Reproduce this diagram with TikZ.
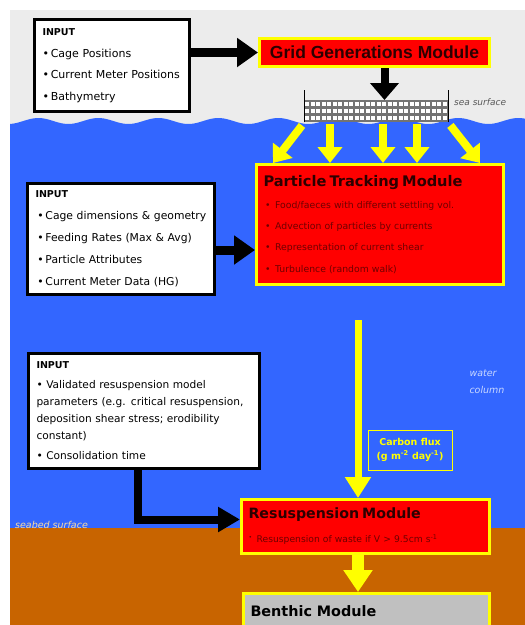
\documentclass[tikz,border=0pt]{standalone}
\usepackage{fontspec}
\setmainfont{DejaVu Sans}
\newfontfamily\arialf{Liberation Sans}
\usetikzlibrary{arrows.meta,calc}
\definecolor{bggray}{RGB}{236,236,236}
\definecolor{seablue}{RGB}{51,102,255}
\definecolor{seabed}{RGB}{200,100,0}
\definecolor{modred}{RGB}{255,0,0}
\definecolor{modyellow}{RGB}{255,255,0}
\definecolor{darkred}{RGB}{110,0,0}
\definecolor{titledark}{RGB}{45,0,0}
\definecolor{benthgray}{RGB}{192,192,192}
\definecolor{meshgray}{RGB}{115,115,115}
\definecolor{watertext}{RGB}{200,215,255}
\definecolor{seabedtext}{RGB}{250,220,160}
\tikzset{
  inbox/.style={draw=black, line width=3pt, fill=white, anchor=north west, inner xsep=8pt, inner ysep=0pt, align=left},
  module/.style={draw=modyellow, line width=3pt, fill=modred, anchor=north west, inner xsep=7pt, inner ysep=0pt, align=left},
  barrow/.style={draw=black, line width=9pt, -{Triangle[length=21pt,width=28pt]}},
  yarrow/.style={draw=modyellow, line width=8pt, -{Triangle[length=16pt,width=24pt]}},
  lbl/.style={inner sep=0pt, anchor=center},
}
\begin{document}
\begin{tikzpicture}[x=1pt,y=-1pt]
\useasboundingbox (0,0) rectangle (525,625);
% background
\fill[white] (0,0) rectangle (525,625);
\fill[bggray] (10,10) rectangle (525,130);
\fill[seablue] (10,528) -- plot[domain=10:525, samples=160, smooth] (\x, {121 + 3*sin(\x*6+40)}) -- (525,528) -- cycle;
\fill[seabed] (10,528) rectangle (525,625);

% input boxes
\node[inbox, minimum width=155pt, minimum height=92pt, text width=139pt,
      font=\fontsize{11}{21.5}\selectfont] (in1) at (33,18)
  {{\bfseries\fontsize{9.5}{21.5}\selectfont INPUT}\\
   •\,Cage Positions\\
   •\,Current Meter Positions\\
   •\,Bathymetry};

\node[inbox, minimum width=187pt, minimum height=111pt, text width=171pt,
      font=\fontsize{10.8}{22}\selectfont] (in2) at (26,182)
  {{\bfseries\fontsize{9.5}{22}\selectfont INPUT}\\
   \,•\,Cage dimensions \& geometry\\
   \,•\,Feeding Rates (Max \& Avg)\\
   \,•\,Particle Attributes\\
   \,•\,Current Meter Data (HG)};

\node[inbox, minimum width=231pt, minimum height=115pt, text width=215pt,
      font=\fontsize{10.6}{17}\selectfont] (in3) at (27,352)
  {{\bfseries\fontsize{9.5}{17}\selectfont INPUT}\\[3pt]
   • Validated resuspension model\\
   parameters (e.g. critical resuspension,\\
   deposition shear stress; erodibility\\
   constant)\\[3pt]
   • Consolidation time};

% modules
\node[module, minimum width=230pt, minimum height=28pt, align=center,
      font=\arialf\bfseries\fontsize{17.5}{20}\selectfont, text=titledark] (grid) at (258,37)
  {Grid Generations Module};

\node[module, minimum width=247pt, minimum height=120pt, text width=233pt,
      font=\fontsize{9.3}{21.3}\selectfont, text=darkred] (part) at (255,163)
  {{\bfseries\fontsize{14.6}{24}\selectfont\color{titledark}Particle Tracking Module}\\
   \,•\enspace Food/faeces with different settling vol.\\
   \,•\enspace Advection of particles by currents\\
   \,•\enspace Representation of current shear\\
   \,•\enspace Turbulence (random walk)};

\node[module, minimum width=248pt, minimum height=54pt, text width=234pt,
      font=\fontsize{9.2}{24}\selectfont, text=darkred] (resus) at (240,498)
  {{\bfseries\fontsize{14.2}{24}\selectfont\color{titledark}Resuspension Module}\\
   \raisebox{3pt}{\fontsize{6}{6}\selectfont•}\enspace Resuspension of waste if V > 9.5cm s\textsuperscript{-1}};

\node[module, fill=benthgray, minimum width=246pt, minimum height=36pt, text width=232pt,
      font=\bfseries\fontsize{14.4}{18}\selectfont, text=black] (benth) at (242,592)
  {Benthic Module};

% mesh
\node[fill=meshgray, minimum width=144pt, minimum height=22pt, inner sep=0pt, anchor=north west] (mesh) at (304,100) {};
\foreach \r in {0,1,2}
  \draw[white, line width=4pt, dash pattern=on 4pt off 1.5pt] (305,{103.5+\r*7}) -- (447,{103.5+\r*7});
\draw[black, line width=0.8pt] (mesh.south west) -- ++(0,-32);
\draw[black, line width=0.8pt] (mesh.south east) -- ++(0,-32);
\node[lbl, anchor=west, font=\itshape\fontsize{9}{10}\selectfont, text=black!65] (seasurf) at (454,102) {sea surface};

% labels
\node[lbl, align=left, font=\itshape\fontsize{9.5}{17}\selectfont, text=watertext] (wc) at (487,382) {water\\column};
\node[lbl, anchor=west, font=\itshape\fontsize{9.5}{11}\selectfont, text=seabedtext] (sbs) at (15,525) {seabed surface};
\node[draw=modyellow, line width=0.8pt, text=modyellow, align=center, inner sep=0pt,
      minimum width=84pt, minimum height=40pt, font=\bfseries\fontsize{9.5}{14}\selectfont] (flux) at (410,450)
  {Carbon flux\\(g m\textsuperscript{-2} day\textsuperscript{-1})};

% black arrows
\coordinate (gridout) at ($(grid.south)+(10,0)$);
\draw[barrow] (in1.east |- grid.west) -- (grid.west);
\draw[draw=black, line width=8pt, -{Triangle[length=17pt,width=28pt]}] (gridout) -- (gridout |- mesh.north);
\draw[barrow] (in2.east |- 0,250) -- (part.west |- 0,250);
\draw[draw=black, line width=8pt, -{Triangle[length=22pt,width=24pt]}] (in3.south -| 138,0) |- ($(resus.west)+(0,-7)$);

% yellow arrows
\draw[yarrow] ($(mesh.south west)+(-2,3)$) -- ($(part.north west)+(18,0)$);
\draw[yarrow] (part.north west |- mesh.south) ++(75,2) -- ($(part.north west)+(75,0)$);
\draw[yarrow] (part.north west |- mesh.south) ++(128,2) -- ($(part.north west)+(128,0)$);
\draw[yarrow] (part.north west |- mesh.south) ++(162,2) -- ($(part.north west)+(162,0)$);
\draw[yarrow] ($(mesh.south east)+(2,3)$) -- ($(part.north west)+(225,0)$);

\coordinate (fluxtop) at (358,320);
\draw[draw=modyellow, line width=7pt, -{Triangle[length=21pt,width=25pt]}] (fluxtop) -- (fluxtop |- resus.north);
\draw[draw=modyellow, line width=12pt, -{Triangle[length=22pt,width=28pt]}] (resus.south -| fluxtop) -- (benth.north -| fluxtop);
\end{tikzpicture}
\end{document}
